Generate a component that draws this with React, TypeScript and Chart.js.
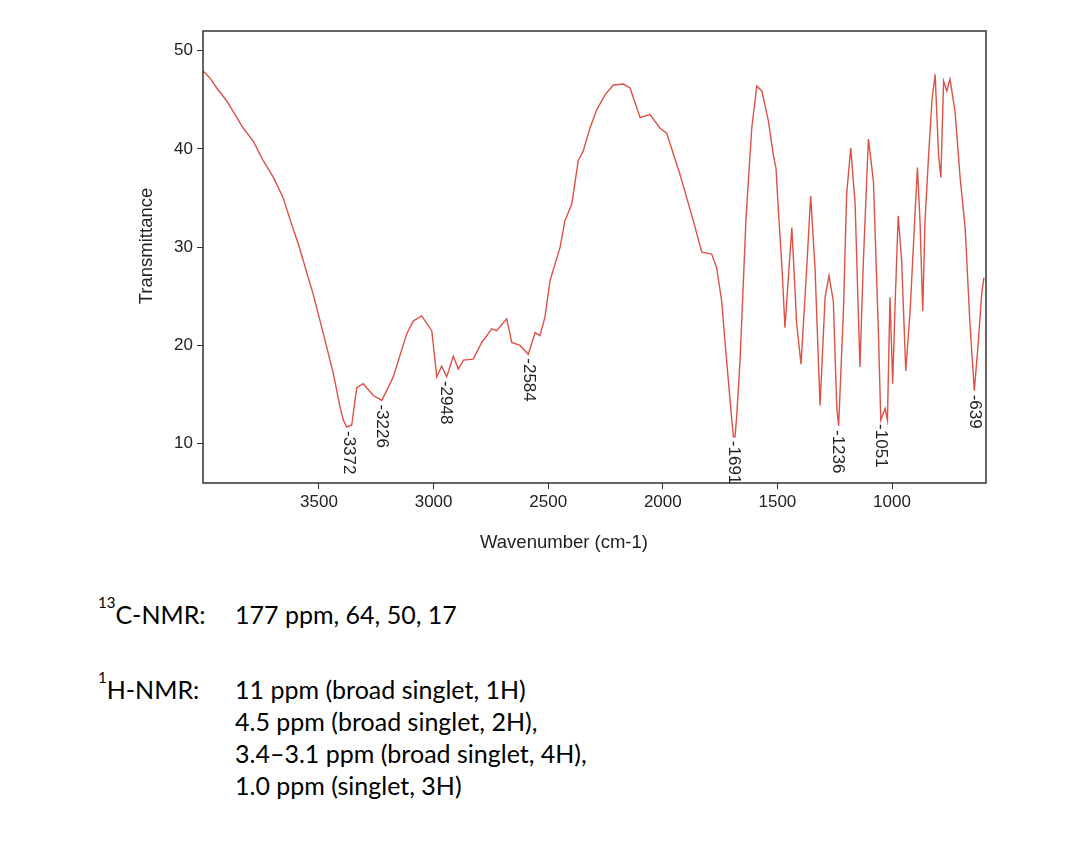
import React, { useEffect, useRef } from "react";
import { Chart, registerables } from "chart.js";

Chart.register(...registerables);

// IR spectrum (wavenumber in cm-1, transmittance)
const wavenumbers = [
  4004, 3975, 3946, 3903, 3866, 3830, 3787, 3765, 3743, 3699, 3656, 3626, 3590, 3568, 3547, 3525,
  3481, 3437, 3408, 3394, 3379, 3357, 3343, 3335, 3307, 3263, 3226, 3176, 3117, 3088, 3052, 3008,
  2986, 2965, 2943, 2914, 2892, 2870, 2827, 2790, 2746, 2725, 2681, 2659, 2623, 2587, 2557, 2536,
  2514, 2492, 2448, 2427, 2397, 2369, 2347, 2318, 2288, 2252, 2216, 2172, 2143, 2099, 2056, 2012,
  1983, 1925, 1867, 1830, 1787, 1765, 1743, 1728, 1714, 1699, 1692, 1685, 1677, 1663, 1649, 1637,
  1612, 1590, 1568, 1539, 1518, 1506, 1495, 1480, 1467, 1452, 1437, 1416, 1397, 1372, 1355, 1336,
  1314, 1292, 1275, 1256, 1241, 1233, 1212, 1198, 1180, 1161, 1140, 1125, 1103, 1081, 1060, 1049,
  1030, 1020, 1009, 997, 987, 973, 958, 940, 921, 899, 889, 878, 866, 856, 841, 826,
  812, 797, 787, 775, 761, 747, 725, 703, 681, 660, 641, 624, 609, 599,
];

const transmittance = [
  47.9, 47.2, 46.2, 44.9, 43.5, 42.1, 40.8, 39.8, 38.8, 37.1, 35.0, 32.8, 30.3, 28.6, 26.9, 25.2,
  21.2, 17.1, 13.7, 12.4, 11.7, 11.9, 14.4, 15.7, 16.1, 14.9, 14.4, 16.8, 21.2, 22.5, 23.0, 21.5,
  16.8, 17.9, 16.8, 18.9, 17.6, 18.5, 18.6, 20.3, 21.7, 21.5, 22.7, 20.3, 20.0, 19.1, 21.3, 21.0,
  22.9, 26.6, 30.0, 32.7, 34.4, 38.8, 39.8, 42.1, 44.0, 45.5, 46.5, 46.6, 46.2, 43.2, 43.5, 42.1,
  41.6, 37.4, 32.7, 29.5, 29.3, 27.9, 24.5, 20.2, 16.4, 12.4, 10.7, 10.7, 13.0, 18.5, 26.2, 33.0,
  42.1, 46.4, 45.9, 42.8, 39.4, 38.0, 33.4, 27.9, 21.8, 27.0, 32.0, 22.2, 18.1, 27.9, 35.2, 27.9,
  13.9, 24.9, 27.1, 24.5, 13.7, 11.8, 23.5, 35.4, 40.1, 34.4, 17.8, 28.6, 41.0, 36.7, 21.8, 12.4,
  13.6, 12.4, 24.9, 16.1, 23.9, 33.2, 28.6, 17.4, 23.5, 33.7, 38.1, 32.7, 23.5, 32.7, 39.1, 44.9,
  47.6, 39.4, 37.1, 46.9, 45.9, 47.1, 43.8, 37.1, 32.0, 22.2, 15.4, 20.2, 25.2, 26.9,
];

const peakLabels = ["3372", "3226", "2948", "2584", "1691", "1236", "1051", "639"];
const peakWavenumbers = [3372, 3226, 2948, 2584, 1691, 1236, 1051, 639];
const peakTransmittance = [11.7, 14.4, 16.8, 19.1, 10.7, 11.8, 12.4, 15.4];

const xTickValues = [3500, 3000, 2500, 2000, 1500, 1000];
const yTickValues = [10, 20, 30, 40, 50];

const xTitle = "Wavenumber (cm-1)";
const yTitle = "Transmittance";

const CHART_FONT = '"Liberation Sans", Arial, sans-serif';

const decorPlugin = {
  id: "irDecor",
  beforeDatasetsDraw(chart: any) {
    const { ctx, scales } = chart;
    const xs = scales.x;
    const ys = scales.y;
    ctx.save();
    ctx.fillStyle = "#222";
    ctx.font = `17px ${CHART_FONT}`;
    ctx.textAlign = "left";
    ctx.textBaseline = "middle";
    peakLabels.forEach((lab, i) => {
      const px = xs.getPixelForValue(peakWavenumbers[i]);
      const py = ys.getPixelForValue(peakTransmittance[i]);
      ctx.save();
      ctx.translate(px, py + 4);
      ctx.rotate(Math.PI / 2);
      ctx.fillText("-" + lab, 0, 0);
      ctx.restore();
    });
    ctx.restore();
  },
  afterDraw(chart: any) {
    const { ctx, chartArea } = chart;
    ctx.save();
    ctx.strokeStyle = "#333";
    ctx.lineWidth = 1.5;
    ctx.strokeRect(chartArea.left, chartArea.top, chartArea.right - chartArea.left, chartArea.bottom - chartArea.top);
    ctx.fillStyle = "#222";
    ctx.font = `18.5px ${CHART_FONT}`;
    ctx.textAlign = "center";
    ctx.textBaseline = "middle";
    ctx.fillText(xTitle, 564, 543);
    ctx.save();
    ctx.translate(147, 246);
    ctx.rotate(-Math.PI / 2);
    ctx.fillText(yTitle, 0, 0);
    ctx.restore();
    ctx.restore();
  },
};

function IRChart() {
  const ref = useRef<HTMLCanvasElement | null>(null);
  useEffect(() => {
    if (!ref.current) return;
    const data = wavenumbers.map((w, i) => ({ x: w, y: transmittance[i] }));
    const chart = new Chart(ref.current, {
      type: "scatter",
      data: {
        datasets: [
          {
            data,
            showLine: true,
            borderColor: "#dd5246",
            borderWidth: 1.4,
            pointRadius: 0,
            tension: 0,
          },
        ],
      },
      options: {
        animation: false,
        responsive: false,
        devicePixelRatio: 1,
        events: [],
        layout: { padding: { left: 0, right: 96, top: 31, bottom: 0 } },
        plugins: { legend: { display: false }, tooltip: { enabled: false }, title: { display: false } },
        scales: {
          x: {
            type: "linear",
            reverse: true,
            min: 590,
            max: 4006,
            afterFit: (s: any) => {
              s.height = 82;
            },
            afterBuildTicks: (s: any) => {
              s.ticks = xTickValues.map((v) => ({ value: v }));
            },
            ticks: {
              font: { family: CHART_FONT, size: 17 },
              color: "#222",
              padding: 3,
              maxRotation: 0,
              autoSkip: false,
              callback: (v: any) => String(v),
            },
            grid: { display: true, drawOnChartArea: false, drawTicks: true, tickLength: 6, color: "#333" },
            border: { display: false },
          },
          y: {
            type: "linear",
            min: 6,
            max: 52,
            afterFit: (s: any) => {
              s.width = 203;
            },
            afterBuildTicks: (s: any) => {
              s.ticks = yTickValues.map((v) => ({ value: v }));
            },
            ticks: {
              font: { family: CHART_FONT, size: 17 },
              color: "#222",
              padding: 4,
              callback: (v: any) => String(v),
            },
            grid: { display: true, drawOnChartArea: false, drawTicks: true, tickLength: 6, color: "#333" },
            border: { display: false },
          },
        },
      },
      plugins: [decorPlugin],
    });
    return () => chart.destroy();
  }, []);
  return (
    <canvas
      ref={ref}
      width={1082}
      height={565}
      style={{ position: "absolute", left: 0, top: 0, width: 1082, height: 565 }}
    />
  );
}

const nmrFont = 'Lato, "Open Sans", sans-serif';

const textStyle: React.CSSProperties = {
  position: "absolute",
  fontFamily: nmrFont,
  fontSize: 25,
  lineHeight: "32px",
  color: "#000",
  whiteSpace: "nowrap",
  margin: 0,
};

const supStyle: React.CSSProperties = {
  fontSize: 15,
  verticalAlign: "top",
  position: "relative",
  top: -4,
  lineHeight: "16px",
};

const carbonLines = ["177 ppm, 64, 50, 17"];
const protonLines = [
  "11 ppm (broad singlet, 1H)",
  "4.5 ppm (broad singlet, 2H),",
  "3.4–3.1 ppm (broad singlet, 4H),",
  "1.0 ppm (singlet, 3H)",
];

export default function App() {
  return (
    <div style={{ position: "absolute", left: 0, top: 0, width: 1082, height: 862, background: "#fff", overflow: "hidden" }}>
      <IRChart />
      <div style={{ ...textStyle, left: 98, top: 598 }}>
        <span style={supStyle}>13</span>C-NMR:
      </div>
      <div style={{ ...textStyle, left: 235, top: 598 }}>
        {carbonLines.map((l, i) => (
          <div key={i}>{l}</div>
        ))}
      </div>
      <div style={{ ...textStyle, left: 98, top: 673 }}>
        <span style={supStyle}>1</span>H-NMR:
      </div>
      <div style={{ ...textStyle, left: 235, top: 673 }}>
        {protonLines.map((l, i) => (
          <div key={i}>{l}</div>
        ))}
      </div>
    </div>
  );
}
